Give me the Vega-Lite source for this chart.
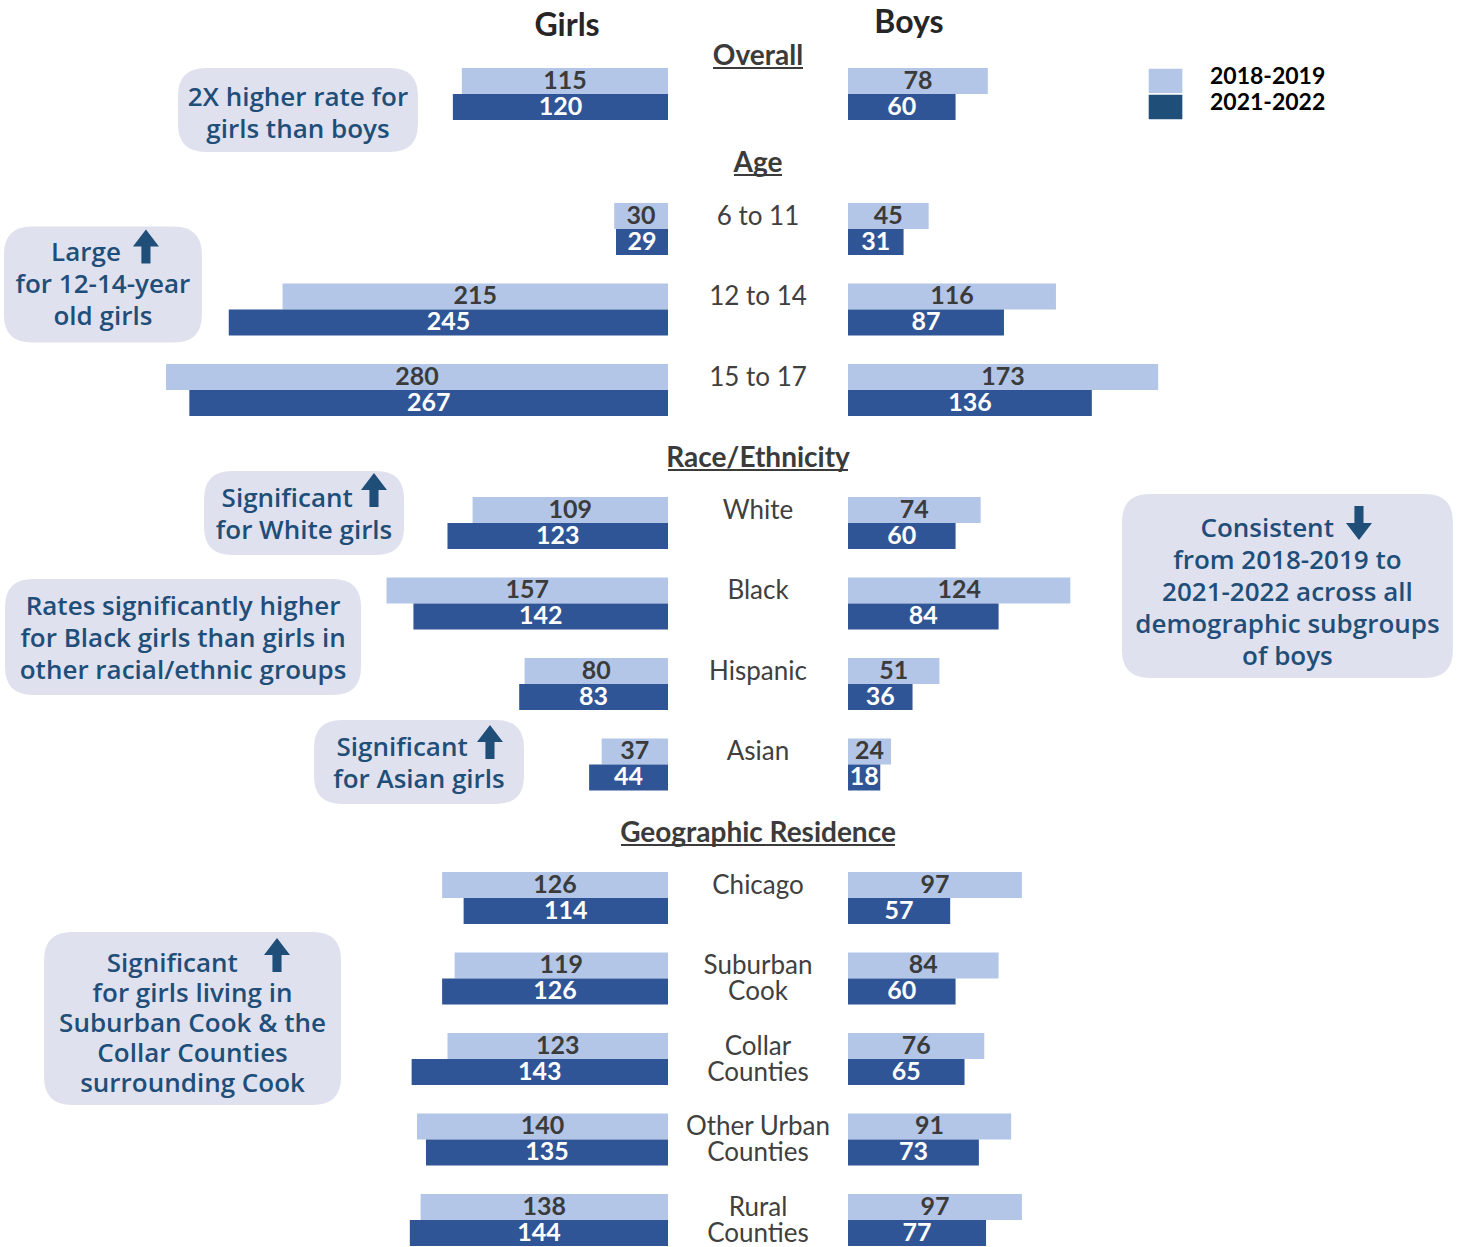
{
  "$schema": "https://vega.github.io/schema/vega-lite/v6.json",
  "background": "white",
  "padding": 0,
  "spacing": 0,
  "bounds": "flush",
  "align": "each",
  "columns": 3,
  "config": {"view": {"stroke": null}, "concat": {"spacing": 0}},
  "datasets": {
    "rates": [
      {"section":"Overall","row":"Overall","gender":"Girls","period":"2018-2019","value":115},
      {"section":"Overall","row":"Overall","gender":"Girls","period":"2021-2022","value":120},
      {"section":"Overall","row":"Overall","gender":"Boys","period":"2018-2019","value":78},
      {"section":"Overall","row":"Overall","gender":"Boys","period":"2021-2022","value":60},
      {"section":"Age","row":"6 to 11","gender":"Girls","period":"2018-2019","value":30},
      {"section":"Age","row":"6 to 11","gender":"Girls","period":"2021-2022","value":29},
      {"section":"Age","row":"6 to 11","gender":"Boys","period":"2018-2019","value":45},
      {"section":"Age","row":"6 to 11","gender":"Boys","period":"2021-2022","value":31},
      {"section":"Age","row":"12 to 14","gender":"Girls","period":"2018-2019","value":215},
      {"section":"Age","row":"12 to 14","gender":"Girls","period":"2021-2022","value":245},
      {"section":"Age","row":"12 to 14","gender":"Boys","period":"2018-2019","value":116},
      {"section":"Age","row":"12 to 14","gender":"Boys","period":"2021-2022","value":87},
      {"section":"Age","row":"15 to 17","gender":"Girls","period":"2018-2019","value":280},
      {"section":"Age","row":"15 to 17","gender":"Girls","period":"2021-2022","value":267},
      {"section":"Age","row":"15 to 17","gender":"Boys","period":"2018-2019","value":173},
      {"section":"Age","row":"15 to 17","gender":"Boys","period":"2021-2022","value":136},
      {"section":"Race","row":"White","gender":"Girls","period":"2018-2019","value":109},
      {"section":"Race","row":"White","gender":"Girls","period":"2021-2022","value":123},
      {"section":"Race","row":"White","gender":"Boys","period":"2018-2019","value":74},
      {"section":"Race","row":"White","gender":"Boys","period":"2021-2022","value":60},
      {"section":"Race","row":"Black","gender":"Girls","period":"2018-2019","value":157},
      {"section":"Race","row":"Black","gender":"Girls","period":"2021-2022","value":142},
      {"section":"Race","row":"Black","gender":"Boys","period":"2018-2019","value":124},
      {"section":"Race","row":"Black","gender":"Boys","period":"2021-2022","value":84},
      {"section":"Race","row":"Hispanic","gender":"Girls","period":"2018-2019","value":80},
      {"section":"Race","row":"Hispanic","gender":"Girls","period":"2021-2022","value":83},
      {"section":"Race","row":"Hispanic","gender":"Boys","period":"2018-2019","value":51},
      {"section":"Race","row":"Hispanic","gender":"Boys","period":"2021-2022","value":36},
      {"section":"Race","row":"Asian","gender":"Girls","period":"2018-2019","value":37},
      {"section":"Race","row":"Asian","gender":"Girls","period":"2021-2022","value":44},
      {"section":"Race","row":"Asian","gender":"Boys","period":"2018-2019","value":24},
      {"section":"Race","row":"Asian","gender":"Boys","period":"2021-2022","value":18},
      {"section":"Geo","row":"Chicago","gender":"Girls","period":"2018-2019","value":126},
      {"section":"Geo","row":"Chicago","gender":"Girls","period":"2021-2022","value":114},
      {"section":"Geo","row":"Chicago","gender":"Boys","period":"2018-2019","value":97},
      {"section":"Geo","row":"Chicago","gender":"Boys","period":"2021-2022","value":57},
      {"section":"Geo","row":"Suburban Cook","gender":"Girls","period":"2018-2019","value":119},
      {"section":"Geo","row":"Suburban Cook","gender":"Girls","period":"2021-2022","value":126},
      {"section":"Geo","row":"Suburban Cook","gender":"Boys","period":"2018-2019","value":84},
      {"section":"Geo","row":"Suburban Cook","gender":"Boys","period":"2021-2022","value":60},
      {"section":"Geo","row":"Collar Counties","gender":"Girls","period":"2018-2019","value":123},
      {"section":"Geo","row":"Collar Counties","gender":"Girls","period":"2021-2022","value":143},
      {"section":"Geo","row":"Collar Counties","gender":"Boys","period":"2018-2019","value":76},
      {"section":"Geo","row":"Collar Counties","gender":"Boys","period":"2021-2022","value":65},
      {"section":"Geo","row":"Other Urban Counties","gender":"Girls","period":"2018-2019","value":140},
      {"section":"Geo","row":"Other Urban Counties","gender":"Girls","period":"2021-2022","value":135},
      {"section":"Geo","row":"Other Urban Counties","gender":"Boys","period":"2018-2019","value":91},
      {"section":"Geo","row":"Other Urban Counties","gender":"Boys","period":"2021-2022","value":73},
      {"section":"Geo","row":"Rural Counties","gender":"Girls","period":"2018-2019","value":138},
      {"section":"Geo","row":"Rural Counties","gender":"Girls","period":"2021-2022","value":144},
      {"section":"Geo","row":"Rural Counties","gender":"Boys","period":"2018-2019","value":97},
      {"section":"Geo","row":"Rural Counties","gender":"Boys","period":"2021-2022","value":77}
    ],
    "labels": [
      {"section":"Age","row":"6 to 11","label":"6 to 11"},
      {"section":"Age","row":"12 to 14","label":"12 to 14"},
      {"section":"Age","row":"15 to 17","label":"15 to 17"},
      {"section":"Race","row":"White","label":"White"},
      {"section":"Race","row":"Black","label":"Black"},
      {"section":"Race","row":"Hispanic","label":"Hispanic"},
      {"section":"Race","row":"Asian","label":"Asian"},
      {"section":"Geo","row":"Chicago","label":"Chicago"},
      {"section":"Geo","row":"Suburban Cook","label":["Suburban","Cook"]},
      {"section":"Geo","row":"Collar Counties","label":["Collar","Counties"]},
      {"section":"Geo","row":"Other Urban Counties","label":["Other Urban","Counties"]},
      {"section":"Geo","row":"Rural Counties","label":["Rural","Counties"]}
    ]
  },
  "concat": [
        {
          "width": 668, "height": 134,
          "data": {"name": "rates"},
          "resolve": {"scale": {"x": "independent"}},
          "layer": [
            {"transform":[{"filter":"datum.section === 'Overall' && datum.gender === 'Girls'"}],
             "mark":{"type":"bar"},
             "encoding":{"y":{"field":"row","type":"nominal","axis":null,"scale":{"domain":["Overall"],"paddingInner":0.354,"paddingOuter":0.5093,"align":0.829}},
               "yOffset":{"field":"period","type":"nominal","scale":{"domain":["2018-2019","2021-2022"],"paddingInner":0,"paddingOuter":0}},
               "x":{"field":"value","type":"quantitative","axis":null,"scale":{"domain":[0,372.6],"reverse":true,"nice":false}},
               "color":{"field":"period","type":"nominal","legend":null,"scale":{"domain":["2018-2019","2021-2022"],"range":["#b4c6e7","#2f5597"]}}}},
            {"transform":[{"filter":"datum.section === 'Overall' && datum.gender === 'Girls'"}],
             "mark":{"type":"text","font":"Lato","fontWeight":"bold","fontSize":25,"baseline":"middle","align":"center"},
             "encoding":{"y":{"field":"row","type":"nominal","axis":null,"scale":{"domain":["Overall"],"paddingInner":0.354,"paddingOuter":0.5093,"align":0.829}},
               "yOffset":{"field":"period","type":"nominal","scale":{"domain":["2018-2019","2021-2022"],"paddingInner":0,"paddingOuter":0}},
               "x":{"field":"value","type":"quantitative","axis":null,"scale":{"domain":[0,745.2],"reverse":true,"nice":false}},
               "text":{"field":"value","type":"quantitative"},
               "color":{"condition":{"test":"datum.period === '2018-2019'","value":"#3b3b3b"},"value":"#ffffff"}}},
            {"data":{"values":[{"t":"Girls"}]},
             "mark":{"type":"text","font":"Lato","fontWeight":"bold","fontSize":32,"color":"#262626","align":"center","baseline":"alphabetic","dy":-57.5},
             "encoding":{"x":{"datum":56.3,"type":"quantitative","axis":null,"scale":{"domain":[0,372.6],"reverse":true,"nice":false}},
               "y":{"datum":"Overall","type":"nominal","axis":null,"scale":{"domain":["Overall"],"paddingInner":0.354,"paddingOuter":0.5093,"align":0.829}},
               "text":{"field":"t","type":"nominal"}}},
            {"data":{"values":[{"note":["2X higher rate for","girls than boys"]}]},
             "encoding":{"x":{"datum":206.4,"type":"quantitative","axis":null,"scale":{"domain":[0,372.6],"reverse":true,"nice":false}},
               "y":{"datum":"Overall","type":"nominal","axis":null,"scale":{"domain":["Overall"],"paddingInner":0.354,"paddingOuter":0.5093,"align":0.829}}},
             "layer":[
               {"mark":{"type":"point","shape":"M-0.7667,-0.35H0.7667Q1,-0.35 1,-0.1167V0.1167Q1,0.35 0.7667,0.35H-0.7667Q-1,0.35 -1,0.1167V-0.1167Q-1,-0.35 -0.7667,-0.35Z","size":57600,"filled":true,"opacity":1,"color":"#dfe2ee","strokeWidth":0,"yOffset":16}},
               {"mark":{"type":"text","font":"Open Sans","fontWeight":600,"fontSize":26,"color":"#1f4e79","align":"center","baseline":"alphabetic","lineHeight":32,"dy":12},
                "encoding":{"text":{"field":"note","type":"nominal"}}}
             ]}
          ]
        },
        {
          "width": 180, "height": 134,
          "layer": [
            {"data":{"values":[{"h":"Overall"}]},
             "mark":{"type":"text","font":"Lato","fontWeight":"bold","fontSize":28,"color":"#3b3b3b","align":"center","baseline":"alphabetic","dy":-29},
             "encoding":{"x":{"datum":0,"type":"quantitative","axis":null,"scale":{"domain":[-90,90],"nice":false}},
               "y":{"datum":"Overall","type":"nominal","axis":null,"scale":{"domain":["Overall"],"paddingInner":0.354,"paddingOuter":0.5093,"align":0.829}},
               "text":{"field":"h","type":"nominal"}}},
            {"data":{"values":[{}]},
             "mark":{"type":"rule","color":"#3b3b3b","strokeWidth":2,"yOffset":-26},
             "encoding":{"x":{"datum":-45,"type":"quantitative","axis":null,"scale":{"domain":[-90,90],"nice":false}},"x2":{"datum":45},
               "y":{"datum":"Overall","type":"nominal","axis":null,"scale":{"domain":["Overall"],"paddingInner":0.354,"paddingOuter":0.5093,"align":0.829}}}}
          ]
        },
        {
          "width": 618, "height": 134,
          "data": {"name": "rates"},
          "resolve": {"scale": {"x": "independent"}},
          "layer": [
            {"transform":[{"filter":"datum.section === 'Overall' && datum.gender === 'Boys'"}],
             "mark":{"type":"bar"},
             "encoding":{"y":{"field":"row","type":"nominal","axis":null,"scale":{"domain":["Overall"],"paddingInner":0.354,"paddingOuter":0.5093,"align":0.829}},
               "yOffset":{"field":"period","type":"nominal","scale":{"domain":["2018-2019","2021-2022"],"paddingInner":0,"paddingOuter":0}},
               "x":{"field":"value","type":"quantitative","axis":null,"scale":{"domain":[0,344.7],"nice":false}},
               "color":{"field":"period","type":"nominal","legend":null,"scale":{"domain":["2018-2019","2021-2022"],"range":["#b4c6e7","#2f5597"]}}}},
            {"transform":[{"filter":"datum.section === 'Overall' && datum.gender === 'Boys'"}],
             "mark":{"type":"text","font":"Lato","fontWeight":"bold","fontSize":25,"baseline":"middle","align":"center"},
             "encoding":{"y":{"field":"row","type":"nominal","axis":null,"scale":{"domain":["Overall"],"paddingInner":0.354,"paddingOuter":0.5093,"align":0.829}},
               "yOffset":{"field":"period","type":"nominal","scale":{"domain":["2018-2019","2021-2022"],"paddingInner":0,"paddingOuter":0}},
               "x":{"field":"value","type":"quantitative","axis":null,"scale":{"domain":[0,689.4],"nice":false}},
               "text":{"field":"value","type":"quantitative"},
               "color":{"condition":{"test":"datum.period === '2018-2019'","value":"#3b3b3b"},"value":"#ffffff"}}},
            {"data":{"values":[{"t":"Boys"}]},
             "mark":{"type":"text","font":"Lato","fontWeight":"bold","fontSize":32,"color":"#262626","align":"center","baseline":"alphabetic","dy":-60.5},
             "encoding":{"x":{"datum":34.0,"type":"quantitative","axis":null,"scale":{"domain":[0,344.7],"nice":false}},
               "y":{"datum":"Overall","type":"nominal","axis":null,"scale":{"domain":["Overall"],"paddingInner":0.354,"paddingOuter":0.5093,"align":0.829}},
               "text":{"field":"t","type":"nominal"}}},
            {"data":{"values":[{"period":"2018-2019"},{"period":"2021-2022"}]},
             "layer":[
               {"mark":{"type":"rect","stroke":"#ffffff","strokeWidth":1.5},
                "encoding":{"x":{"datum":167.3,"type":"quantitative","axis":null,"scale":{"domain":[0,344.7],"nice":false}},"x2":{"datum":186.9},
                  "y":{"datum":"Overall","type":"nominal","axis":null,"scale":{"domain":["Overall"],"paddingInner":0.354,"paddingOuter":0.5093,"align":0.829}},
                  "yOffset":{"field":"period","type":"nominal","scale":{"domain":["2018-2019","2021-2022"],"paddingInner":0,"paddingOuter":0}},
                  "color":{"condition":{"test":"datum.period === '2018-2019'","value":"#b4c6e7"},"value":"#1f4e79"}}},
               {"mark":{"type":"text","font":"Lato","fontWeight":"bold","fontSize":23,"color":"#000000","align":"left","baseline":"middle","dy":-4},
                "encoding":{"x":{"datum":201.9,"type":"quantitative","axis":null,"scale":{"domain":[0,344.7],"nice":false}},
                  "y":{"datum":"Overall","type":"nominal","axis":null,"scale":{"domain":["Overall"],"paddingInner":0.354,"paddingOuter":0.5093,"align":0.829}},
                  "yOffset":{"field":"period","type":"nominal","scale":{"domain":["2018-2019","2021-2022"],"paddingInner":0,"paddingOuter":0}},
                  "text":{"field":"period","type":"nominal"}}}
             ]}
          ]
        },
        {
          "width": 668, "height": 295,
          "data": {"name": "rates"},
          "resolve": {"scale": {"x": "independent"}},
          "layer": [
            {"transform":[{"filter":"datum.section === 'Age' && datum.gender === 'Girls'"}],
             "mark":{"type":"bar"},
             "encoding":{"y":{"field":"row","type":"nominal","axis":null,"scale":{"domain":["6 to 11","12 to 14","15 to 17"],"paddingInner":0.354,"paddingOuter":0.5093,"align":0.841}},
               "yOffset":{"field":"period","type":"nominal","scale":{"domain":["2018-2019","2021-2022"],"paddingInner":0,"paddingOuter":0}},
               "x":{"field":"value","type":"quantitative","axis":null,"scale":{"domain":[0,372.6],"reverse":true,"nice":false}},
               "color":{"field":"period","type":"nominal","legend":null,"scale":{"domain":["2018-2019","2021-2022"],"range":["#b4c6e7","#2f5597"]}}}},
            {"transform":[{"filter":"datum.section === 'Age' && datum.gender === 'Girls'"}],
             "mark":{"type":"text","font":"Lato","fontWeight":"bold","fontSize":25,"baseline":"middle","align":"center"},
             "encoding":{"y":{"field":"row","type":"nominal","axis":null,"scale":{"domain":["6 to 11","12 to 14","15 to 17"],"paddingInner":0.354,"paddingOuter":0.5093,"align":0.841}},
               "yOffset":{"field":"period","type":"nominal","scale":{"domain":["2018-2019","2021-2022"],"paddingInner":0,"paddingOuter":0}},
               "x":{"field":"value","type":"quantitative","axis":null,"scale":{"domain":[0,745.2],"reverse":true,"nice":false}},
               "text":{"field":"value","type":"quantitative"},
               "color":{"condition":{"test":"datum.period === '2018-2019'","value":"#3b3b3b"},"value":"#ffffff"}}},
            {"data":{"values":[{"note":["Large\u00a0\u00a0\u00a0\u00a0\u00a0\u200b","for 12-14-year","old girls"]}]},
             "encoding":{"x":{"datum":315.2,"type":"quantitative","axis":null,"scale":{"domain":[0,372.6],"reverse":true,"nice":false}},
               "y":{"datum":"12 to 14","type":"nominal","axis":null,"scale":{"domain":["6 to 11","12 to 14","15 to 17"],"paddingInner":0.354,"paddingOuter":0.5093,"align":0.841}}},
             "layer":[
               {"mark":{"type":"point","shape":"M-0.7172,-0.5859H0.7172Q1,-0.5859 1,-0.3031V0.3031Q1,0.5859 0.7172,0.5859H-0.7172Q-1,0.5859 -1,0.3031V-0.3031Q-1,-0.5859 -0.7172,-0.5859Z","size":39204,"filled":true,"opacity":1,"color":"#dfe2ee","strokeWidth":0,"yOffset":-25}},
               {"mark":{"type":"text","font":"Open Sans","fontWeight":600,"fontSize":26,"color":"#1f4e79","align":"center","baseline":"alphabetic","lineHeight":32,"dy":-48},
                "encoding":{"text":{"field":"note","type":"nominal"}}},
               {"mark":{"type":"point","shape":"M0,-1.31L1,0L0.35,0L0.35,1.31L-0.35,1.31L-0.35,0L-1,0Z","size":676,"filled":true,"opacity":1,"color":"#1f4e79","strokeWidth":0,"yOffset":-63},
                "encoding":{"x":{"datum":291.2,"type":"quantitative","axis":null,"scale":{"domain":[0,372.6],"reverse":true,"nice":false}}}}
             ]}
          ]
        },
        {
          "width": 180, "height": 295,
          "layer": [
            {"data":{"values":[{"h":"Age"}]},
             "mark":{"type":"text","font":"Lato","fontWeight":"bold","fontSize":28,"color":"#3b3b3b","align":"center","baseline":"alphabetic","dy":-57},
             "encoding":{"x":{"datum":0,"type":"quantitative","axis":null,"scale":{"domain":[-90,90],"nice":false}},
               "y":{"datum":"6 to 11","type":"nominal","axis":null,"scale":{"domain":["6 to 11","12 to 14","15 to 17"],"paddingInner":0.354,"paddingOuter":0.5093,"align":0.841}},
               "text":{"field":"h","type":"nominal"}}},
            {"data":{"values":[{}]},
             "mark":{"type":"rule","color":"#3b3b3b","strokeWidth":2,"yOffset":-54},
             "encoding":{"x":{"datum":-24,"type":"quantitative","axis":null,"scale":{"domain":[-90,90],"nice":false}},"x2":{"datum":24},
               "y":{"datum":"6 to 11","type":"nominal","axis":null,"scale":{"domain":["6 to 11","12 to 14","15 to 17"],"paddingInner":0.354,"paddingOuter":0.5093,"align":0.841}}}},
            {"data":{"name":"labels"},"transform":[{"filter":"datum.section === 'Age'"}],
             "mark":{"type":"text","font":"Lato","fontSize":26,"color":"#404040","align":"center","baseline":"alphabetic","lineHeight":26,"dy":-4},
             "encoding":{"x":{"datum":0,"type":"quantitative","axis":null,"scale":{"domain":[-90,90],"nice":false}},
               "y":{"field":"row","type":"nominal","axis":null,"scale":{"domain":["6 to 11","12 to 14","15 to 17"],"paddingInner":0.354,"paddingOuter":0.5093,"align":0.841}},
               "text":{"field":"label","type":"nominal"}}}
          ]
        },
        {
          "width": 618, "height": 295,
          "data": {"name": "rates"},
          "resolve": {"scale": {"x": "independent"}},
          "layer": [
            {"transform":[{"filter":"datum.section === 'Age' && datum.gender === 'Boys'"}],
             "mark":{"type":"bar"},
             "encoding":{"y":{"field":"row","type":"nominal","axis":null,"scale":{"domain":["6 to 11","12 to 14","15 to 17"],"paddingInner":0.354,"paddingOuter":0.5093,"align":0.841}},
               "yOffset":{"field":"period","type":"nominal","scale":{"domain":["2018-2019","2021-2022"],"paddingInner":0,"paddingOuter":0}},
               "x":{"field":"value","type":"quantitative","axis":null,"scale":{"domain":[0,344.7],"nice":false}},
               "color":{"field":"period","type":"nominal","legend":null,"scale":{"domain":["2018-2019","2021-2022"],"range":["#b4c6e7","#2f5597"]}}}},
            {"transform":[{"filter":"datum.section === 'Age' && datum.gender === 'Boys'"}],
             "mark":{"type":"text","font":"Lato","fontWeight":"bold","fontSize":25,"baseline":"middle","align":"center"},
             "encoding":{"y":{"field":"row","type":"nominal","axis":null,"scale":{"domain":["6 to 11","12 to 14","15 to 17"],"paddingInner":0.354,"paddingOuter":0.5093,"align":0.841}},
               "yOffset":{"field":"period","type":"nominal","scale":{"domain":["2018-2019","2021-2022"],"paddingInner":0,"paddingOuter":0}},
               "x":{"field":"value","type":"quantitative","axis":null,"scale":{"domain":[0,689.4],"nice":false}},
               "text":{"field":"value","type":"quantitative"},
               "color":{"condition":{"test":"datum.period === '2018-2019'","value":"#3b3b3b"},"value":"#ffffff"}}}
          ]
        },
        {
          "width": 668, "height": 376,
          "data": {"name": "rates"},
          "resolve": {"scale": {"x": "independent"}},
          "layer": [
            {"transform":[{"filter":"datum.section === 'Race' && datum.gender === 'Girls'"}],
             "mark":{"type":"bar"},
             "encoding":{"y":{"field":"row","type":"nominal","axis":null,"scale":{"domain":["White","Black","Hispanic","Asian"],"paddingInner":0.354,"paddingOuter":0.5124,"align":0.824}},
               "yOffset":{"field":"period","type":"nominal","scale":{"domain":["2018-2019","2021-2022"],"paddingInner":0,"paddingOuter":0}},
               "x":{"field":"value","type":"quantitative","axis":null,"scale":{"domain":[0,372.6],"reverse":true,"nice":false}},
               "color":{"field":"period","type":"nominal","legend":null,"scale":{"domain":["2018-2019","2021-2022"],"range":["#b4c6e7","#2f5597"]}}}},
            {"transform":[{"filter":"datum.section === 'Race' && datum.gender === 'Girls'"}],
             "mark":{"type":"text","font":"Lato","fontWeight":"bold","fontSize":25,"baseline":"middle","align":"center"},
             "encoding":{"y":{"field":"row","type":"nominal","axis":null,"scale":{"domain":["White","Black","Hispanic","Asian"],"paddingInner":0.354,"paddingOuter":0.5124,"align":0.824}},
               "yOffset":{"field":"period","type":"nominal","scale":{"domain":["2018-2019","2021-2022"],"paddingInner":0,"paddingOuter":0}},
               "x":{"field":"value","type":"quantitative","axis":null,"scale":{"domain":[0,745.2],"reverse":true,"nice":false}},
               "text":{"field":"value","type":"quantitative"},
               "color":{"condition":{"test":"datum.period === '2018-2019'","value":"#3b3b3b"},"value":"#ffffff"}}},
            {"data":{"values":[{"note":["Significant\u00a0\u00a0\u00a0\u00a0\u00a0\u200b","for White girls"]}]},
             "encoding":{"x":{"datum":203.0,"type":"quantitative","axis":null,"scale":{"domain":[0,372.6],"reverse":true,"nice":false}},
               "y":{"datum":"White","type":"nominal","axis":null,"scale":{"domain":["White","Black","Hispanic","Asian"],"paddingInner":0.354,"paddingOuter":0.5124,"align":0.824}}},
             "layer":[
               {"mark":{"type":"point","shape":"M-0.72,-0.42H0.72Q1,-0.42 1,-0.14V0.14Q1,0.42 0.72,0.42H-0.72Q-1,0.42 -1,0.14V-0.14Q-1,-0.42 -0.72,-0.42Z","size":40000,"filled":true,"opacity":1,"color":"#dfe2ee","strokeWidth":0,"yOffset":-10}},
               {"mark":{"type":"text","font":"Open Sans","fontWeight":600,"fontSize":26,"color":"#1f4e79","align":"center","baseline":"alphabetic","lineHeight":32,"dy":-16},
                "encoding":{"text":{"field":"note","type":"nominal"}}},
               {"mark":{"type":"point","shape":"M0,-1.31L1,0L0.35,0L0.35,1.31L-0.35,1.31L-0.35,0L-1,0Z","size":676,"filled":true,"opacity":1,"color":"#1f4e79","strokeWidth":0,"yOffset":-33},
                "encoding":{"x":{"datum":164.0,"type":"quantitative","axis":null,"scale":{"domain":[0,372.6],"reverse":true,"nice":false}}}}
             ]},
            {"data":{"values":[{"note":["Rates significantly higher","for Black girls than girls in","other racial/ethnic groups"]}]},
             "encoding":{"x":{"datum":270.5,"type":"quantitative","axis":null,"scale":{"domain":[0,372.6],"reverse":true,"nice":false}},
               "y":{"datum":"Black","type":"nominal","axis":null,"scale":{"domain":["White","Black","Hispanic","Asian"],"paddingInner":0.354,"paddingOuter":0.5124,"align":0.824}}},
             "layer":[
               {"mark":{"type":"point","shape":"M-0.8427,-0.3258H0.8427Q1,-0.3258 1,-0.1685V0.1685Q1,0.3258 0.8427,0.3258H-0.8427Q-1,0.3258 -1,0.1685V-0.1685Q-1,-0.3258 -0.8427,-0.3258Z","size":126736,"filled":true,"opacity":1,"color":"#dfe2ee","strokeWidth":0,"yOffset":33.5}},
               {"mark":{"type":"text","font":"Open Sans","fontWeight":600,"fontSize":26,"color":"#1f4e79","align":"center","baseline":"alphabetic","lineHeight":32,"dy":11.5},
                "encoding":{"text":{"field":"note","type":"nominal"}}}
             ]},
            {"data":{"values":[{"note":["Significant\u00a0\u00a0\u00a0\u00a0\u00a0\u200b","for Asian girls"]}]},
             "encoding":{"x":{"datum":138.9,"type":"quantitative","axis":null,"scale":{"domain":[0,372.6],"reverse":true,"nice":false}},
               "y":{"datum":"Asian","type":"nominal","axis":null,"scale":{"domain":["White","Black","Hispanic","Asian"],"paddingInner":0.354,"paddingOuter":0.5124,"align":0.824}}},
             "layer":[
               {"mark":{"type":"point","shape":"M-0.7333,-0.4H0.7333Q1,-0.4 1,-0.1333V0.1333Q1,0.4 0.7333,0.4H-0.7333Q-1,0.4 -1,0.1333V-0.1333Q-1,-0.4 -0.7333,-0.4Z","size":44100,"filled":true,"opacity":1,"color":"#dfe2ee","strokeWidth":0,"yOffset":-2.5}},
               {"mark":{"type":"text","font":"Open Sans","fontWeight":600,"fontSize":26,"color":"#1f4e79","align":"center","baseline":"alphabetic","lineHeight":32,"dy":-8.5},
                "encoding":{"text":{"field":"note","type":"nominal"}}},
               {"mark":{"type":"point","shape":"M0,-1.31L1,0L0.35,0L0.35,1.31L-0.35,1.31L-0.35,0L-1,0Z","size":676,"filled":true,"opacity":1,"color":"#1f4e79","strokeWidth":0,"yOffset":-22.5},
                "encoding":{"x":{"datum":99.3,"type":"quantitative","axis":null,"scale":{"domain":[0,372.6],"reverse":true,"nice":false}}}}
             ]}
          ]
        },
        {
          "width": 180, "height": 376,
          "layer": [
            {"data":{"values":[{"h":"Race/Ethnicity"}]},
             "mark":{"type":"text","font":"Lato","fontWeight":"bold","fontSize":28,"color":"#3b3b3b","align":"center","baseline":"alphabetic","dy":-56},
             "encoding":{"x":{"datum":0,"type":"quantitative","axis":null,"scale":{"domain":[-90,90],"nice":false}},
               "y":{"datum":"White","type":"nominal","axis":null,"scale":{"domain":["White","Black","Hispanic","Asian"],"paddingInner":0.354,"paddingOuter":0.5124,"align":0.824}},
               "text":{"field":"h","type":"nominal"}}},
            {"data":{"values":[{}]},
             "mark":{"type":"rule","color":"#3b3b3b","strokeWidth":2,"yOffset":-53},
             "encoding":{"x":{"datum":-90,"type":"quantitative","axis":null,"scale":{"domain":[-90,90],"nice":false}},"x2":{"datum":90},
               "y":{"datum":"White","type":"nominal","axis":null,"scale":{"domain":["White","Black","Hispanic","Asian"],"paddingInner":0.354,"paddingOuter":0.5124,"align":0.824}}}},
            {"data":{"name":"labels"},"transform":[{"filter":"datum.section === 'Race'"}],
             "mark":{"type":"text","font":"Lato","fontSize":26,"color":"#404040","align":"center","baseline":"alphabetic","lineHeight":26,"dy":-4},
             "encoding":{"x":{"datum":0,"type":"quantitative","axis":null,"scale":{"domain":[-90,90],"nice":false}},
               "y":{"field":"row","type":"nominal","axis":null,"scale":{"domain":["White","Black","Hispanic","Asian"],"paddingInner":0.354,"paddingOuter":0.5124,"align":0.824}},
               "text":{"field":"label","type":"nominal"}}}
          ]
        },
        {
          "width": 618, "height": 376,
          "data": {"name": "rates"},
          "resolve": {"scale": {"x": "independent"}},
          "layer": [
            {"transform":[{"filter":"datum.section === 'Race' && datum.gender === 'Boys'"}],
             "mark":{"type":"bar"},
             "encoding":{"y":{"field":"row","type":"nominal","axis":null,"scale":{"domain":["White","Black","Hispanic","Asian"],"paddingInner":0.354,"paddingOuter":0.5124,"align":0.824}},
               "yOffset":{"field":"period","type":"nominal","scale":{"domain":["2018-2019","2021-2022"],"paddingInner":0,"paddingOuter":0}},
               "x":{"field":"value","type":"quantitative","axis":null,"scale":{"domain":[0,344.7],"nice":false}},
               "color":{"field":"period","type":"nominal","legend":null,"scale":{"domain":["2018-2019","2021-2022"],"range":["#b4c6e7","#2f5597"]}}}},
            {"transform":[{"filter":"datum.section === 'Race' && datum.gender === 'Boys'"}],
             "mark":{"type":"text","font":"Lato","fontWeight":"bold","fontSize":25,"baseline":"middle","align":"center"},
             "encoding":{"y":{"field":"row","type":"nominal","axis":null,"scale":{"domain":["White","Black","Hispanic","Asian"],"paddingInner":0.354,"paddingOuter":0.5124,"align":0.824}},
               "yOffset":{"field":"period","type":"nominal","scale":{"domain":["2018-2019","2021-2022"],"paddingInner":0,"paddingOuter":0}},
               "x":{"field":"value","type":"quantitative","axis":null,"scale":{"domain":[0,689.4],"nice":false}},
               "text":{"field":"value","type":"quantitative"},
               "color":{"condition":{"test":"datum.period === '2018-2019'","value":"#3b3b3b"},"value":"#ffffff"}}},
            {"data":{"values":[{"note":["Consistent\u00a0\u00a0\u00a0\u00a0\u00a0\u00a0\u200b","from 2018-2019 to","2021-2022 across all","demographic subgroups","of boys"]}]},
             "encoding":{"x":{"datum":245.1,"type":"quantitative","axis":null,"scale":{"domain":[0,344.7],"nice":false}},
               "y":{"datum":"Black","type":"nominal","axis":null,"scale":{"domain":["White","Black","Hispanic","Asian"],"paddingInner":0.354,"paddingOuter":0.5124,"align":0.824}}},
             "layer":[
               {"mark":{"type":"point","shape":"M-0.8308,-0.5559H0.8308Q1,-0.5559 1,-0.3867V0.3867Q1,0.5559 0.8308,0.5559H-0.8308Q-1,0.5559 -1,0.3867V-0.3867Q-1,-0.5559 -0.8308,-0.5559Z","size":109561,"filled":true,"opacity":1,"color":"#dfe2ee","strokeWidth":0,"yOffset":-17.5}},
               {"mark":{"type":"text","font":"Open Sans","fontWeight":600,"fontSize":26,"color":"#1f4e79","align":"center","baseline":"alphabetic","lineHeight":32,"dy":-66.5},
                "encoding":{"text":{"field":"note","type":"nominal"}}},
               {"mark":{"type":"point","shape":"M0,1.31L1,0L0.35,0L0.35,-1.31L-0.35,-1.31L-0.35,0L-1,0Z","size":676,"filled":true,"opacity":1,"color":"#1f4e79","strokeWidth":0,"yOffset":-80.5},
                "encoding":{"x":{"datum":285.0,"type":"quantitative","axis":null,"scale":{"domain":[0,344.7],"nice":false}}}}
             ]}
          ]
        },
        {
          "width": 668, "height": 442,
          "data": {"name": "rates"},
          "resolve": {"scale": {"x": "independent"}},
          "layer": [
            {"transform":[{"filter":"datum.section === 'Geo' && datum.gender === 'Girls'"}],
             "mark":{"type":"bar"},
             "encoding":{"y":{"field":"row","type":"nominal","axis":null,"scale":{"domain":["Chicago","Suburban Cook","Collar Counties","Other Urban Counties","Rural Counties"],"paddingInner":0.354,"paddingOuter":0.4224,"align":0.985}},
               "yOffset":{"field":"period","type":"nominal","scale":{"domain":["2018-2019","2021-2022"],"paddingInner":0,"paddingOuter":0}},
               "x":{"field":"value","type":"quantitative","axis":null,"scale":{"domain":[0,372.6],"reverse":true,"nice":false}},
               "color":{"field":"period","type":"nominal","legend":null,"scale":{"domain":["2018-2019","2021-2022"],"range":["#b4c6e7","#2f5597"]}}}},
            {"transform":[{"filter":"datum.section === 'Geo' && datum.gender === 'Girls'"}],
             "mark":{"type":"text","font":"Lato","fontWeight":"bold","fontSize":25,"baseline":"middle","align":"center"},
             "encoding":{"y":{"field":"row","type":"nominal","axis":null,"scale":{"domain":["Chicago","Suburban Cook","Collar Counties","Other Urban Counties","Rural Counties"],"paddingInner":0.354,"paddingOuter":0.4224,"align":0.985}},
               "yOffset":{"field":"period","type":"nominal","scale":{"domain":["2018-2019","2021-2022"],"paddingInner":0,"paddingOuter":0}},
               "x":{"field":"value","type":"quantitative","axis":null,"scale":{"domain":[0,745.2],"reverse":true,"nice":false}},
               "text":{"field":"value","type":"quantitative"},
               "color":{"condition":{"test":"datum.period === '2018-2019'","value":"#3b3b3b"},"value":"#ffffff"}}},
            {"data":{"values":[{"note":["Significant\u00a0\u00a0\u00a0\u00a0\u00a0\u00a0\u200b","for girls living in","Suburban Cook & the","Collar Counties","surrounding Cook"]}]},
             "encoding":{"x":{"datum":265.2,"type":"quantitative","axis":null,"scale":{"domain":[0,372.6],"reverse":true,"nice":false}},
               "y":{"datum":"Suburban Cook","type":"nominal","axis":null,"scale":{"domain":["Chicago","Suburban Cook","Collar Counties","Other Urban Counties","Rural Counties"],"paddingInner":0.354,"paddingOuter":0.4224,"align":0.985}}},
             "layer":[
               {"mark":{"type":"point","shape":"M-0.8114,-0.5825H0.8114Q1,-0.5825 1,-0.3939V0.3939Q1,0.5825 0.8114,0.5825H-0.8114Q-1,0.5825 -1,0.3939V-0.3939Q-1,-0.5825 -0.8114,-0.5825Z","size":88209,"filled":true,"opacity":1,"color":"#dfe2ee","strokeWidth":0,"yOffset":40}},
               {"mark":{"type":"text","font":"Open Sans","fontWeight":600,"fontSize":26,"color":"#1f4e79","align":"center","baseline":"alphabetic","lineHeight":30,"dy":-6.5},
                "encoding":{"text":{"field":"note","type":"nominal"}}},
               {"mark":{"type":"point","shape":"M0,-1.31L1,0L0.35,0L0.35,1.31L-0.35,1.31L-0.35,0L-1,0Z","size":676,"filled":true,"opacity":1,"color":"#1f4e79","strokeWidth":0,"yOffset":-23.5},
                "encoding":{"x":{"datum":218.1,"type":"quantitative","axis":null,"scale":{"domain":[0,372.6],"reverse":true,"nice":false}}}}
             ]}
          ]
        },
        {
          "width": 180, "height": 442,
          "layer": [
            {"data":{"values":[{"h":"Geographic Residence"}]},
             "mark":{"type":"text","font":"Lato","fontWeight":"bold","fontSize":28,"color":"#3b3b3b","align":"center","baseline":"alphabetic","dy":-56},
             "encoding":{"x":{"datum":0,"type":"quantitative","axis":null,"scale":{"domain":[-90,90],"nice":false}},
               "y":{"datum":"Chicago","type":"nominal","axis":null,"scale":{"domain":["Chicago","Suburban Cook","Collar Counties","Other Urban Counties","Rural Counties"],"paddingInner":0.354,"paddingOuter":0.4224,"align":0.985}},
               "text":{"field":"h","type":"nominal"}}},
            {"data":{"values":[{}]},
             "mark":{"type":"rule","color":"#3b3b3b","strokeWidth":2,"yOffset":-53},
             "encoding":{"x":{"datum":-137,"type":"quantitative","axis":null,"scale":{"domain":[-90,90],"nice":false}},"x2":{"datum":137},
               "y":{"datum":"Chicago","type":"nominal","axis":null,"scale":{"domain":["Chicago","Suburban Cook","Collar Counties","Other Urban Counties","Rural Counties"],"paddingInner":0.354,"paddingOuter":0.4224,"align":0.985}}}},
            {"data":{"name":"labels"},"transform":[{"filter":"datum.section === 'Geo'"}],
             "mark":{"type":"text","font":"Lato","fontSize":26,"color":"#404040","align":"center","baseline":"alphabetic","lineHeight":26,"dy":-4},
             "encoding":{"x":{"datum":0,"type":"quantitative","axis":null,"scale":{"domain":[-90,90],"nice":false}},
               "y":{"field":"row","type":"nominal","axis":null,"scale":{"domain":["Chicago","Suburban Cook","Collar Counties","Other Urban Counties","Rural Counties"],"paddingInner":0.354,"paddingOuter":0.4224,"align":0.985}},
               "text":{"field":"label","type":"nominal"}}}
          ]
        },
        {
          "width": 618, "height": 442,
          "data": {"name": "rates"},
          "resolve": {"scale": {"x": "independent"}},
          "layer": [
            {"transform":[{"filter":"datum.section === 'Geo' && datum.gender === 'Boys'"}],
             "mark":{"type":"bar"},
             "encoding":{"y":{"field":"row","type":"nominal","axis":null,"scale":{"domain":["Chicago","Suburban Cook","Collar Counties","Other Urban Counties","Rural Counties"],"paddingInner":0.354,"paddingOuter":0.4224,"align":0.985}},
               "yOffset":{"field":"period","type":"nominal","scale":{"domain":["2018-2019","2021-2022"],"paddingInner":0,"paddingOuter":0}},
               "x":{"field":"value","type":"quantitative","axis":null,"scale":{"domain":[0,344.7],"nice":false}},
               "color":{"field":"period","type":"nominal","legend":null,"scale":{"domain":["2018-2019","2021-2022"],"range":["#b4c6e7","#2f5597"]}}}},
            {"transform":[{"filter":"datum.section === 'Geo' && datum.gender === 'Boys'"}],
             "mark":{"type":"text","font":"Lato","fontWeight":"bold","fontSize":25,"baseline":"middle","align":"center"},
             "encoding":{"y":{"field":"row","type":"nominal","axis":null,"scale":{"domain":["Chicago","Suburban Cook","Collar Counties","Other Urban Counties","Rural Counties"],"paddingInner":0.354,"paddingOuter":0.4224,"align":0.985}},
               "yOffset":{"field":"period","type":"nominal","scale":{"domain":["2018-2019","2021-2022"],"paddingInner":0,"paddingOuter":0}},
               "x":{"field":"value","type":"quantitative","axis":null,"scale":{"domain":[0,689.4],"nice":false}},
               "text":{"field":"value","type":"quantitative"},
               "color":{"condition":{"test":"datum.period === '2018-2019'","value":"#3b3b3b"},"value":"#ffffff"}}}
          ]
        }
  ]
}
